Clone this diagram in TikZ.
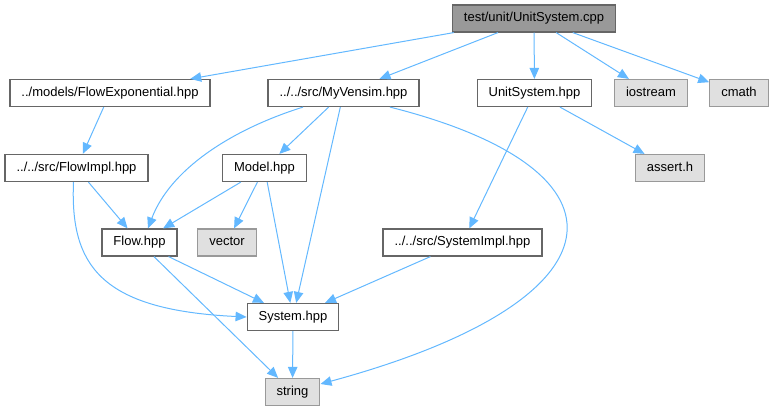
\documentclass[tikz,border=0pt]{standalone}
\usepackage{fontspec}
\setmainfont{Liberation Sans}
\usepackage{xcolor}
\usepackage{tikz}
\usetikzlibrary{arrows.meta}
\definecolor{EdgeBlue}{HTML}{63B8FF}
\definecolor{BoxLine}{HTML}{666666}
\definecolor{SysLine}{HTML}{999999}
\definecolor{SysFill}{HTML}{E0E0E0}
\definecolor{RootFill}{HTML}{999999}
\tikzset{
  file/.style={rectangle,draw=BoxLine,fill=white,line width=1.2pt,
               minimum height=27pt,inner xsep=11.5pt,inner ysep=0pt,
               text height=9.5pt,text depth=2.6pt,
               font=\fontsize{13}{15}\selectfont},
  sysfile/.style={file,draw=SysLine,fill=SysFill},
  rootfile/.style={file,fill=RootFill},
  dep/.style={-{Triangle[length=11pt,width=9.5pt]},line width=1pt,EdgeBlue},
}

\begin{document}
\begin{tikzpicture}[x=1pt,y=-1pt]
  \useasboundingbox (0,0) rectangle (774,411);
  % files
  \node[rootfile] (cpp)     at (534,18.5)  {test/unit/UnitSystem.cpp};
  \node[file]     (flowexp) at (110,93)    {../models/FlowExponential.hpp};
  \node[file]     (vensim)  at (343.5,93)  {../../src/MyVensim.hpp};
  \node[file]     (ushpp)   at (534.5,93)  {UnitSystem.hpp};
  \node[sysfile]  (iostr)   at (651,93)    {iostream};
  \node[sysfile]  (cmath)   at (739,93)    {cmath};
  \node[file]     (flowimp) at (76.5,168)  {../../src/FlowImpl.hpp};
  \node[file]     (model)   at (264.5,168) {Model.hpp};
  \node[sysfile]  (assert)  at (670,168)   {assert.h};
  \node[file]     (flow)    at (139.5,242.5) {Flow.hpp};
  \node[sysfile]  (vector)  at (227,242.5) {vector};
  \node[file]     (sysimp)  at (462.5,242.5) {../../src/SystemImpl.hpp};
  \node[file]     (system)  at (293,317)   {System.hpp};
  \node[sysfile]  (string)  at (292.5,392) {string};
  % includes
  \draw[dep] (cpp) -- (flowexp);
  \draw[dep] (cpp) -- (vensim);
  \draw[dep] (cpp) -- (ushpp);
  \draw[dep] (cpp) -- (iostr);
  \draw[dep] (cpp) -- (cmath);
  \draw[dep] (flowexp) -- (flowimp);
  \draw[dep] (flowimp) -- (flow);
  \draw[dep] ([xshift=-3pt]flowimp.south) .. controls (70,265) and (100,310) .. (system.west);
  \draw[dep] ([xshift=-40.5pt]vensim.south) .. controls (230,130) and (170,170) .. ([xshift=8.5pt]flow.north);
  \draw[dep] (vensim) -- (model);
  \draw[dep] (vensim) -- (system);
  \draw[dep] ([xshift=46.5pt]vensim.south) .. controls (640,170) and (630,300) .. ([yshift=8pt]string.east);
  \draw[dep] (model) -- (flow);
  \draw[dep] (model) -- (vector);
  \draw[dep] (model) -- (system);
  \draw[dep] (flow) -- (system);
  \draw[dep] (flow) -- (string);
  \draw[dep] (system) -- (string);
  \draw[dep] (ushpp) -- (sysimp);
  \draw[dep] (ushpp) -- (assert);
  \draw[dep] (sysimp) -- (system);
\end{tikzpicture}
\end{document}
